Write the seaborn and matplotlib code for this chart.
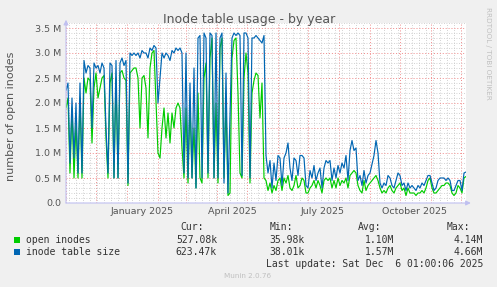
import numpy as np
import pandas as pd
import matplotlib
matplotlib.use('Agg')
import matplotlib.pyplot as plt
import matplotlib.dates as mdates
from matplotlib.ticker import MultipleLocator, NullFormatter
from matplotlib.patches import Rectangle
import seaborn as sns

nan = np.nan

# values in millions, one sample every 2 days starting 2024-11-01
start_date = '2024-11-01'
end_date = '2025-12-06'
series_names = ['open inodes', 'inode table size']

open_inodes = [
    1.9, 2.1, 0.6, 1.9, 0.5, 1.6, 0.5, 2.1, 0.5, 2.5,
    2.2, 2.5, 2.45, 1.2, 2.3, 2.6, 2.1, 2.3, 2.5, 2.55,
    1.3, 0.5, 2.4, 2.6, 0.5, 2.5, 0.5, 2.6, 2.65, 2.5,
    2.45, 0.35, 2.6, 2.65, 2.7, 2.7, 2.5, 1.5, 2.5, 2.55,
    2.3, 1.3, 2.7, 3.0, 3.05, 2.0, 1.0, 0.9, 1.5, 1.9,
    1.3, 1.8, 1.2, 1.8, 1.5, 1.9, 2.0, 1.9, 1.1, 0.5,
    1.9, 0.4, 2.0, 0.5, 1.5, 0.3, 2.2, 0.5, 0.4, 2.5,
    2.8, 0.5, 2.9, 3.3, 0.5, 2.0, 0.4, 3.1, 3.3, 0.5,
    2.0, 0.15, 0.2, 2.9, 3.25, 3.3, 2.2, 0.6, 0.5, 2.5,
    3.0, 2.6, 0.4, 2.2, 2.45, 2.6, 2.55, 1.7, 2.4, 0.5,
    0.45, 0.25, 0.4, 0.2, 0.35, 0.25, 0.45, 0.5, 0.25, 0.5,
    0.4, 0.55, 0.3, 0.25, 0.35, 0.55, 0.3, 0.35, 0.5, 0.45,
    0.2, 0.2, 0.3, 0.35, 0.45, 0.3, 0.45, 0.35, 0.2, 0.45,
    0.5, 0.45, 0.5, 0.3, 0.45, 0.3, 0.5, 0.35, 0.45, 0.4,
    0.5, 0.3, 0.55, 0.6, 0.65, 0.6, 0.35, 0.25, 0.2, 0.45,
    0.25, 0.35, 0.4, 0.45, 0.5, 0.55, 0.45, 0.3, 0.2, 0.25,
    0.2, 0.3, 0.35, 0.25, 0.2, 0.3, 0.35, 0.4, 0.25, 0.3,
    0.15, 0.3, 0.2, 0.2, 0.2, 0.15, 0.2, 0.2, 0.25, 0.2,
    0.3, 0.45, 0.5, 0.3, 0.2, 0.2, 0.25, 0.3, 0.35, 0.35,
    0.4, 0.4, 0.35, 0.2, 0.15, 0.2, 0.35, 0.3, 0.2, 0.5,
    0.53,
]

table_size = [
    2.25, 2.4, 0.8, 2.1, 0.9, 2.0, 0.6, 2.4, 0.6, 2.85,
    2.6, 2.75, 2.7, 1.5, 2.8, 2.7, 2.75, 2.6, 2.8, 2.7,
    1.5, 0.6, 2.8, 2.75, 0.5, 2.85, 0.5, 2.8, 2.9, 2.75,
    2.85, 0.4, 3.0, 2.95, 3.0, 2.95, 3.0, 2.9, 3.05, 3.0,
    3.0, 2.9, 3.1, 3.05, 3.15, 3.1, 2.0, nan, 3.0, 2.9,
    3.0, 2.95, 2.85, 3.05, 3.0, 3.1, 3.05, 3.1, 3.0, 0.6,
    3.0, 0.5, 2.4, 0.5, 2.7, 0.3, 3.3, 3.35, 0.5, 3.4,
    3.3, 0.6, 3.4, 3.35, 0.5, 3.4, 0.5, 3.3, 3.4, 0.4,
    2.6, 0.2, nan, 3.3, 3.4, 3.35, 3.4, 3.35, 0.55, 3.4,
    3.4, 3.3, 0.5, 3.3, 3.3, 3.35, 3.3, 3.25, 3.2, 3.35,
    0.95, 0.6, 0.85, 0.3, 0.8, 0.45, 0.95, 0.9, 0.35, 0.9,
    1.0, 1.2, 0.7, 0.45, 0.9, 0.85, 0.55, 0.95, 0.95, 0.9,
    0.35, 0.3, 0.65, 0.5, 0.75, 0.45, 0.6, 0.7, 0.3, 0.7,
    0.85, 0.8, 0.85, 0.45, 0.7, 0.5, 0.75, 0.6, 0.8, 0.7,
    0.95, 0.45, 1.05, 1.25, 1.05, 1.1, 0.45, 0.55, 0.35, 0.65,
    0.4, 0.55, 0.6, nan, 0.95, 1.25, 1.0, 0.4, 0.3, 0.4,
    0.35, 0.55, 0.5, 0.35, 0.3, 0.45, 0.6, 0.55, 0.35, 0.4,
    0.25, 0.4, 0.3, 0.35, 0.3, 0.25, 0.35, 0.3, 0.4, 0.35,
    0.45, 0.55, 0.55, 0.4, 0.25, 0.3, 0.45, 0.5, 0.5, 0.5,
    0.45, 0.5, 0.45, 0.25, 0.25, 0.35, 0.45, 0.45, 0.25, 0.6,
    0.62,
]

series_colors = ['#00cc00', '#0066b3']
ytick_vals = [0.0, 0.5, 1.0, 1.5, 2.0, 2.5, 3.0, 3.5]
ytick_labels = ['0.0', '0.5 M', '1.0 M', '1.5 M', '2.0 M', '2.5 M', '3.0 M', '3.5 M']
month_labels = ['January 2025', 'April 2025', 'July 2025', 'October 2025']
month_label_dates = ['2025-01-16', '2025-04-16', '2025-07-16', '2025-10-16']

legend_cur = ['527.08k', '623.47k']
legend_min = ['35.98k', '38.01k']
legend_avg = ['1.10M', '1.57M']
legend_max = ['4.14M', '4.66M']

sns.set_style('white')
plt.rcParams['font.family'] = ['DejaVu Sans']

dates = pd.date_range(start_date, periods=len(open_inodes), freq='2D')
df = pd.concat([
    pd.DataFrame({'date': dates, 'value': open_inodes, 'series': series_names[0]}),
    pd.DataFrame({'date': dates, 'value': table_size, 'series': series_names[1]}),
], ignore_index=True)

W, H = 497, 287
fig = plt.figure(figsize=(W / 100, H / 100), dpi=100, facecolor='#f0f0f0')
ax = fig.add_axes([66 / W, 1 - 203 / H, 400 / W, 180 / H])
ax.set_facecolor('white')

sns.lineplot(data=df, x='date', y='value', hue='series', hue_order=series_names,
             palette=dict(zip(series_names, series_colors)), estimator=None,
             linewidth=0.85, legend=False, ax=ax)

ax.set_xlim(pd.Timestamp(start_date), pd.Timestamp(end_date))
ax.set_ylim(0, 3.6)
ax.set_xlabel('')
ax.set_ylabel('')

ax.xaxis.set_major_locator(mdates.MonthLocator())
ax.xaxis.set_minor_locator(mdates.WeekdayLocator(byweekday=mdates.MO))
ax.xaxis.set_major_formatter(NullFormatter())
ax.set_yticks(ytick_vals, ytick_labels)
ax.yaxis.set_minor_locator(MultipleLocator(0.1))

ax.set_axisbelow(True)
ax.grid(which='minor', color='#c4c4c4', ls=(0, (1, 2)), lw=0.6)
ax.grid(which='major', color='#f08a8a', ls=(0, (1, 2)), lw=0.7)

ax.tick_params(axis='x', which='major', direction='inout', length=4, width=0.7, color='#f08080')
ax.tick_params(axis='x', which='minor', direction='inout', length=3, width=0.6, color='#b0b0b0')
ax.tick_params(axis='y', which='major', direction='inout', length=3, width=0.7, color='#f08080',
               labelsize=6.8, labelcolor='#555555', pad=2)
ax.tick_params(axis='y', which='minor', length=0)

for s in ax.spines.values():
    s.set_visible(False)

axis_col = '#c0c0f0'
ax.annotate('', xy=(1.012, 0), xytext=(0, 0), xycoords='axes fraction',
            arrowprops=dict(arrowstyle='-|>', color=axis_col, lw=0.8, mutation_scale=7,
                            shrinkA=0, shrinkB=0))
ax.annotate('', xy=(0, 1.018), xytext=(0, 0), xycoords='axes fraction',
            arrowprops=dict(arrowstyle='-|>', color=axis_col, lw=0.8, mutation_scale=7,
                            shrinkA=0, shrinkB=0))

for lab, d in zip(month_labels, month_label_dates):
    ax.text(pd.Timestamp(d), -0.05, lab, transform=ax.get_xaxis_transform(),
            ha='center', va='center', fontsize=6.8, color='#555555')


def px(x, y):
    return x / W, 1 - y / H


fig.text(*px(249, 19), 'Inode table usage - by year', ha='center', va='center',
         fontsize=9, color='#555555')
fig.text(*px(11, 116), 'number of open inodes', ha='center', va='center', rotation=90,
         fontsize=8, color='#555555')
fig.text(*px(488, 53), 'RRDTOOL / TOBI OETIKER', ha='center', va='center', rotation=270,
         fontsize=5.2, color='#c0c0c0')

mono = dict(family='DejaVu Sans Mono', fontsize=7, color='#333333', va='center')
fig.text(*px(204, 227), 'Cur:', ha='right', **mono)
fig.text(*px(293, 227), 'Min:', ha='right', **mono)
fig.text(*px(381, 227), 'Avg:', ha='right', **mono)
fig.text(*px(470, 227), 'Max:', ha='right', **mono)

for i, (name, col) in enumerate(zip(series_names, series_colors)):
    yrow = 240 + 12 * i
    fig.add_artist(Rectangle(px(14, yrow + 3), 6 / W, 6 / H, transform=fig.transFigure,
                             facecolor=col, edgecolor='none'))
    fig.text(*px(26, yrow), name, ha='left', **mono)
    fig.text(*px(217, yrow), legend_cur[i], ha='right', **mono)
    fig.text(*px(305, yrow), legend_min[i], ha='right', **mono)
    fig.text(*px(394, yrow), legend_avg[i], ha='right', **mono)
    fig.text(*px(483, yrow), legend_max[i], ha='right', **mono)

fig.text(*px(483, 264), 'Last update: Sat Dec  6 01:00:06 2025', ha='right', **mono)
fig.text(*px(248, 276), 'Munin 2.0.76', ha='center', va='center', fontsize=5.2, color='#c0c0c0')

fig.savefig('out.png', dpi=100, facecolor=fig.get_facecolor())
